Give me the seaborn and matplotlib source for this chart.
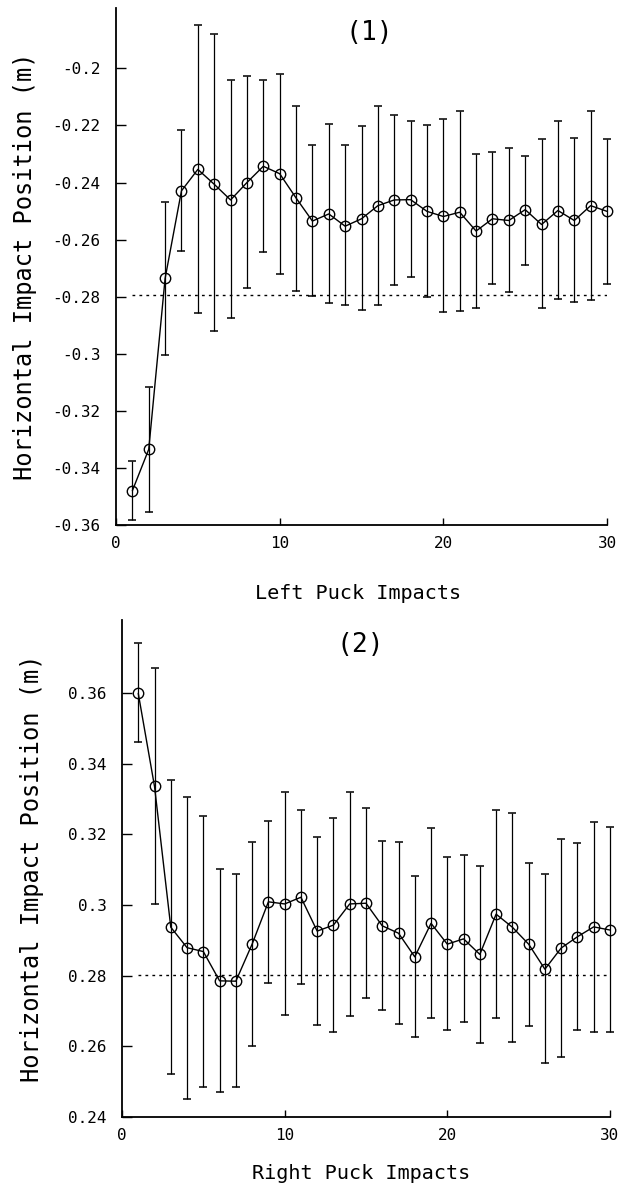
import numpy as np
import pandas as pd
import matplotlib as mpl
mpl.use('Agg')
import matplotlib.pyplot as plt
from matplotlib.ticker import FuncFormatter
import seaborn as sns

# impact number (x) and horizontal impact position in metres (y)
impacts = list(range(1, 31))

left_pos = [-0.3480, -0.3335, -0.2736, -0.2429, -0.2354, -0.2406, -0.2461, -0.2400, -0.2343, -0.2369,
            -0.2454, -0.2535, -0.2510, -0.2553, -0.2527, -0.2481, -0.2461, -0.2460, -0.2501, -0.2519,
            -0.2504, -0.2570, -0.2527, -0.2533, -0.2495, -0.2547, -0.2498, -0.2533, -0.2481, -0.2501]
left_hi = [-0.3376, -0.3115, -0.2468, -0.2217, -0.1847, -0.1881, -0.2039, -0.2028, -0.2040, -0.2020,
           -0.2133, -0.2268, -0.2195, -0.2270, -0.2202, -0.2133, -0.2165, -0.2183, -0.2200, -0.2179,
           -0.2148, -0.2301, -0.2294, -0.2280, -0.2306, -0.2248, -0.2186, -0.2245, -0.2149, -0.2246]
left_lo = [-0.3583, -0.3553, -0.3006, -0.2639, -0.2856, -0.2919, -0.2874, -0.2770, -0.2644, -0.2720,
           -0.2779, -0.2799, -0.2822, -0.2830, -0.2845, -0.2830, -0.2758, -0.2731, -0.2802, -0.2854,
           -0.2850, -0.2839, -0.2754, -0.2783, -0.2689, -0.2841, -0.2807, -0.2820, -0.2810, -0.2754]
left_ref = -0.2795

right_pos = [0.3600, 0.3336, 0.2937, 0.2879, 0.2868, 0.2785, 0.2784, 0.2889, 0.3009, 0.3003,
             0.3022, 0.2926, 0.2943, 0.3003, 0.3005, 0.2941, 0.2920, 0.2853, 0.2948, 0.2889,
             0.2904, 0.2860, 0.2974, 0.2937, 0.2889, 0.2818, 0.2878, 0.2910, 0.2938, 0.2929]
right_hi = [0.3744, 0.3673, 0.3355, 0.3307, 0.3251, 0.3102, 0.3087, 0.3178, 0.3239, 0.3321,
            0.3269, 0.3194, 0.3246, 0.3321, 0.3274, 0.3182, 0.3178, 0.3082, 0.3218, 0.3137,
            0.3142, 0.3111, 0.3269, 0.3262, 0.3118, 0.3087, 0.3187, 0.3175, 0.3236, 0.3220]
right_lo = [0.3463, 0.3002, 0.2520, 0.2451, 0.2483, 0.2470, 0.2483, 0.2599, 0.2780, 0.2688,
            0.2776, 0.2659, 0.2641, 0.2686, 0.2737, 0.2702, 0.2662, 0.2626, 0.2680, 0.2645,
            0.2667, 0.2610, 0.2680, 0.2612, 0.2657, 0.2551, 0.2570, 0.2645, 0.2639, 0.2639]
right_ref = 0.2801

left_yticks = [-0.36, -0.34, -0.32, -0.30, -0.28, -0.26, -0.24, -0.22, -0.20]
right_yticks = [0.24, 0.26, 0.28, 0.30, 0.32, 0.34, 0.36]
xticks = [0, 10, 20, 30]
ylabel = 'Horizontal Impact Position (m)'

sns.set_style('ticks')
plt.rcParams['font.family'] = ['DejaVu Sans Mono', 'DejaVu Sans']
for k in ['text.color', 'axes.labelcolor', 'xtick.color', 'ytick.color']:
    plt.rcParams[k] = 'k'


def draw_panel(ax, pos, lo, hi, ref, yticks, ylim, title, xlabel, title_xy, xlabel_xy):
    df = pd.DataFrame({'impact': impacts, 'pos': pos, 'lo': lo, 'hi': hi})
    yerr = np.vstack([df['pos'] - df['lo'], df['hi'] - df['pos']])
    ax.errorbar(df['impact'], df['pos'], yerr=yerr, fmt='none', ecolor='k',
                elinewidth=0.9, capsize=3, capthick=1.1, zorder=2, clip_on=False)
    sns.lineplot(data=df, x='impact', y='pos', ax=ax, color='k', lw=1.0,
                 marker='o', markersize=7.5, markerfacecolor='none',
                 markeredgecolor='k', markeredgewidth=1.0, zorder=3, clip_on=False)
    ax.hlines(ref, 1, 30, colors='k', linestyles=(0, (2, 3)), lw=1.0, zorder=1)
    ax.set_xlim(0, 30)
    ax.set_ylim(*ylim)
    ax.set_xticks(xticks)
    ax.set_yticks(yticks)
    ax.yaxis.set_major_formatter(FuncFormatter(lambda v, p: '%g' % round(v, 3)))
    ax.tick_params(axis='y', direction='in', length=7, width=1.0, pad=11, labelsize=11.5)
    ax.tick_params(axis='x', direction='in', length=5, width=1.0, pad=8, labelsize=11.5)
    sns.despine(ax=ax)
    for s in ['left', 'bottom']:
        ax.spines[s].set_linewidth(1.3)
        ax.spines[s].set_color('k')
    ax.set_ylabel(ylabel, fontsize=17)
    ax.yaxis.set_label_coords(-0.16, 0.5)
    ax.set_xlabel(xlabel, fontsize=14.5)
    ax.xaxis.set_label_coords(*xlabel_xy)
    ax.text(title_xy[0], title_xy[1], title, transform=ax.transAxes,
            ha='center', va='center', fontsize=19)


fig = plt.figure(figsize=(6.24, 11.98), dpi=100)
ax1 = fig.add_axes([0.1859, 0.5618, 0.7869, 0.4316])
ax2 = fig.add_axes([0.1955, 0.0679, 0.7820, 0.4146])

draw_panel(ax1, left_pos, left_lo, left_hi, left_ref, left_yticks, (-0.36, -0.1788),
           '(1)', 'Left Puck Impacts', (0.515, 0.952), (0.493, -0.114))
draw_panel(ax2, right_pos, right_lo, right_hi, right_ref, right_yticks, (0.24, 0.3808),
           '(2)', 'Right Puck Impacts', (0.488, 0.95), (0.49, -0.096))

fig.savefig('out.png', dpi=100)
